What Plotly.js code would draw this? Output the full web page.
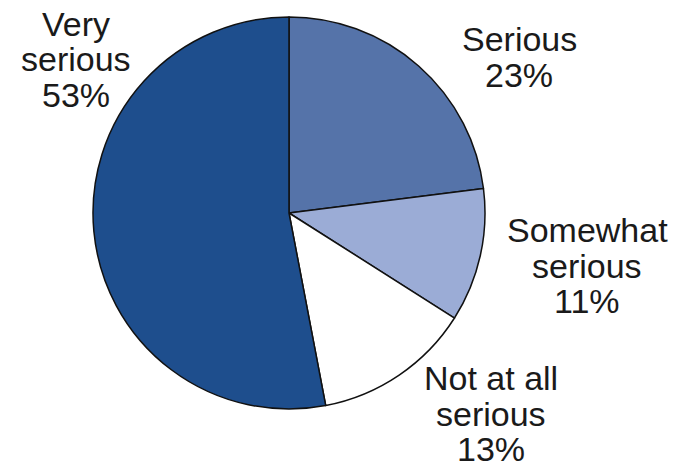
<!DOCTYPE html>
<html>
<head>
<meta charset="utf-8">
<script src="https://cdn.plot.ly/plotly-3.0.1.min.js"></script>
<style>html,body{margin:0;padding:0;background:#fff;}#chart{width:675px;height:470px;}</style>
</head>
<body>
<div id="chart"></div>
<script>
// Data
var categories = ["Serious", "Somewhat serious", "Not at all serious", "Very serious"];
var labelLines = [["Serious"], ["Somewhat", "serious"], ["Not at all", "serious"], ["Very", "serious"]];
var values = [23, 11, 13, 53];
var sliceColors = ["#5573a9", "#9bacd6", "#ffffff", "#1e4e8d"];

// Label placement (pixel centres of first line) - styling only
var labelX = [519, 587, 491, 76];
var labelY = [39, 230, 378, 24];
var lineStep = 35.5;

var W = 675, H = 470;
var cx = 289, cy = 213, r = 196;

var annotations = [];
for (var i = 0; i < categories.length; i++) {
  var lines = labelLines[i].concat([values[i] + "%"]);
  for (var j = 0; j < lines.length; j++) {
    annotations.push({
      xref: "paper", yref: "paper",
      x: labelX[i] / W, y: 1 - (labelY[i] + j * lineStep) / H,
      xanchor: "center", yanchor: "middle",
      text: lines[j], showarrow: false,
      font: {family: "Liberation Sans, Arial, sans-serif", size: 34, color: "#1a1a1a"}
    });
  }
}

var data = [{
  type: "pie",
  labels: categories,
  values: values,
  sort: false,
  direction: "clockwise",
  rotation: 0,
  textinfo: "none",
  hoverinfo: "label+percent",
  marker: {colors: sliceColors, line: {color: "#111111", width: 1.5}},
  domain: {x: [(cx - r) / W, (cx + r) / W], y: [1 - (cy + r) / H, 1 - (cy - r) / H]}
}];

var layout = {
  width: W, height: H,
  margin: {l: 0, r: 0, t: 0, b: 0},
  showlegend: false,
  paper_bgcolor: "#ffffff",
  annotations: annotations
};

Plotly.newPlot("chart", data, layout, {displayModeBar: false, staticPlot: true});
</script>
</body>
</html>
